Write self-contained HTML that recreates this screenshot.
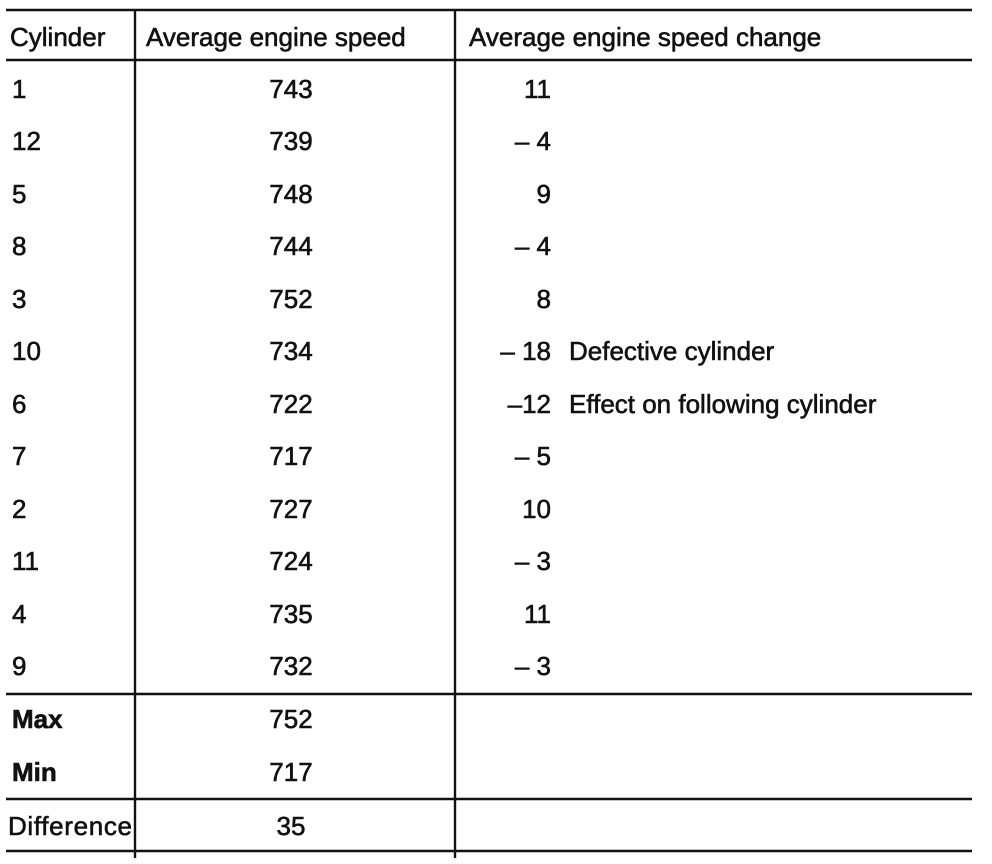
<!DOCTYPE html>
<html><head><meta charset="utf-8"><style>
html,body{margin:0;padding:0;background:#fff;}
svg{display:block}
text{font-family:"Liberation Sans",Arial,sans-serif;font-size:26px;fill:#111;stroke:#111;stroke-width:0.6px;}
.b{font-weight:bold}
</style></head><body>
<svg width="992" height="864" viewBox="0 0 992 864">
<g stroke="#111" stroke-width="2.4">
<line x1="6" y1="10" x2="972" y2="10"/>
<line x1="6" y1="60" x2="972" y2="60"/>
<line x1="6" y1="694" x2="972" y2="694"/>
<line x1="6" y1="799" x2="972" y2="799"/>
<line x1="6" y1="851" x2="972" y2="851"/>
<line x1="135" y1="10" x2="135" y2="858"/>
<line x1="455" y1="10" x2="455" y2="858"/>
</g>
<text x="10" y="46">Cylinder</text>
<text x="146" y="46">Average engine speed</text>
<text x="469" y="46">Average engine speed change</text>
<g>
<text x="12" y="98">1</text>
<text x="12" y="150">12</text>
<text x="12" y="203">5</text>
<text x="12" y="255">8</text>
<text x="12" y="308">3</text>
<text x="12" y="360">10</text>
<text x="12" y="413">6</text>
<text x="12" y="465">7</text>
<text x="12" y="518">2</text>
<text x="12" y="570">11</text>
<text x="12" y="623">4</text>
<text x="12" y="675">9</text>
<text x="12" y="728" class="b">Max</text>
<text x="12" y="781" class="b">Min</text>
<text x="8" y="835" textLength="124">Difference</text>
</g>
<g text-anchor="middle">
<text x="291" y="98">743</text>
<text x="291" y="150">739</text>
<text x="291" y="203">748</text>
<text x="291" y="255">744</text>
<text x="291" y="308">752</text>
<text x="291" y="360">734</text>
<text x="291" y="413">722</text>
<text x="291" y="465">717</text>
<text x="291" y="518">727</text>
<text x="291" y="570">724</text>
<text x="291" y="623">735</text>
<text x="291" y="675">732</text>
<text x="291" y="728">752</text>
<text x="291" y="781">717</text>
<text x="291" y="835">35</text>
</g>
<g text-anchor="end">
<text x="551" y="98">11</text>
<text x="551" y="150">– 4</text>
<text x="551" y="203">9</text>
<text x="551" y="255">– 4</text>
<text x="551" y="308">8</text>
<text x="551" y="360">– 18</text>
<text x="551" y="413">–12</text>
<text x="551" y="465">– 5</text>
<text x="551" y="518">10</text>
<text x="551" y="570">– 3</text>
<text x="551" y="623">11</text>
<text x="551" y="675">– 3</text>
</g>
<text x="569" y="360">Defective cylinder</text>
<text x="569" y="413">Effect on following cylinder</text>
</svg>
</body></html>
